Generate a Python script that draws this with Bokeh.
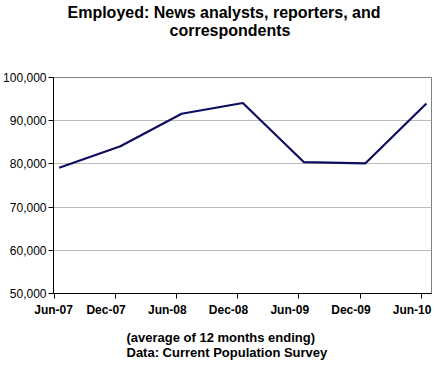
from bokeh.plotting import figure
from bokeh.models import (Range1d, FixedTicker, LinearAxis, NumeralTickFormatter, Title)
from bokeh.embed import file_html
from bokeh.resources import INLINE

# Data (average of 12 months ending)
months = ["Jun-07", "Dec-07", "Jun-08", "Dec-08", "Jun-09", "Dec-09", "Jun-10"]
employed = [79100, 84100, 91600, 94100, 80400, 80100, 94000]
y_ticks = [50000, 60000, 70000, 80000, 90000, 100000]

step = 6  # months between observations
xs = [i * step for i in range(len(months))]
x_start, x_end = -0.56, xs[-1] + 0.5

p = figure(width=436, height=368, output_backend="svg", toolbar_location=None,
           title_location=None,
           x_range=Range1d(x_start, x_end), y_range=Range1d(y_ticks[0], y_ticks[-1]),
           min_border_left=47, min_border_right=5, min_border_top=77, min_border_bottom=73)
p.background_fill_color = "white"
p.border_fill_color = "white"
p.outline_line_color = "#808080"
p.outline_line_width = 1

p.line(xs, employed, line_color="#0d0d5e", line_width=2.2)

# y axis
ya = p.yaxis[0]
ya.ticker = FixedTicker(ticks=y_ticks)
ya.formatter = NumeralTickFormatter(format="0,0")
ya.major_label_text_font = "Liberation Sans"
ya.major_label_text_font_size = "12px"
ya.major_label_text_color = "black"
ya.major_tick_out = 5
ya.major_tick_in = 0
ya.minor_tick_line_color = None
ya.major_label_standoff = 2
ya.axis_line_color = "black"
ya.major_tick_line_color = "black"

p.xgrid.visible = False
p.ygrid[0].ticker = FixedTicker(ticks=y_ticks)
p.ygrid.grid_line_color = "#bcbcbc"

# x axis with tick marks between periods (no labels)
tick_pos = [x - 0.5 for x in xs]
xa = p.xaxis[0]
xa.ticker = FixedTicker(ticks=tick_pos)
xa.major_label_overrides = {t: "" for t in tick_pos}
xa.major_label_standoff = 0
xa.major_tick_out = 5
xa.major_tick_in = 0
xa.minor_tick_line_color = None
xa.axis_line_color = "black"
xa.major_tick_line_color = "black"

# x labels axis
lab_pos = [max(x - 1.4, x_start + 0.01) for x in xs]
xl = LinearAxis(ticker=FixedTicker(ticks=lab_pos),
                major_label_overrides={lp: m for lp, m in zip(lab_pos, months)})
xl.axis_line_color = None
xl.major_tick_line_color = None
xl.minor_tick_line_color = None
xl.major_tick_out = 0
xl.major_label_standoff = 4
xl.major_label_text_font = "Liberation Sans"
xl.major_label_text_font_style = "bold"
xl.major_label_text_font_size = "12px"
xl.major_label_text_color = "black"
p.add_layout(xl, "below")

# Notes below
note = Title(text="(average of 12 months ending)\nData: Current Population Survey",
             align="left", offset=73, text_font="Liberation Sans",
             text_font_style="bold", text_font_size="13px", text_color="black",
             text_line_height=0.98, standoff=17)
p.add_layout(note, "below")

# Spacer between plot and title (invisible axis)
sp = LinearAxis(ticker=FixedTicker(ticks=[tick_pos[1]]), axis_line_color=None,
                major_label_overrides={tick_pos[1]: ""},
                major_tick_line_color=None, minor_tick_line_color=None,
                major_tick_out=39, major_tick_in=0, major_label_standoff=0)
p.add_layout(sp, "above")

# Titles above (first added is nearest to plot)
for txt, off, so in [("correspondents", 116, 0), ("Employed: News analysts, reporters, and", 14, -2)]:
    t = Title(text=txt, align="left", offset=off, text_font="Liberation Sans",
              text_font_style="bold", text_font_size="16px", text_color="black", standoff=so)
    p.add_layout(t, "above")

open("out.html", "w").write(file_html(p, INLINE))
